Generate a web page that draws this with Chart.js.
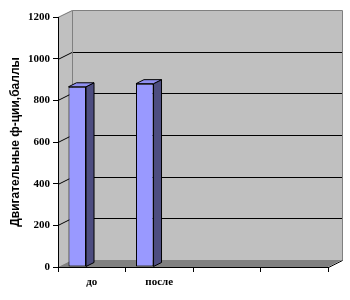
<!DOCTYPE html>
<html>
<head>
<meta charset="utf-8">
<script src="https://cdn.jsdelivr.net/npm/chart.js@4/dist/chart.umd.min.js"></script>
<style>
html,body{margin:0;padding:0;background:#fff;}
canvas{display:block;}
</style>
</head>
<body>
<canvas id="c" width="350" height="300"></canvas>
<script>
const categories = ['до', 'после', '', ''];
const values = [865, 880, null, null];
const yMin = 0;
const yMax = 1200;
const yStep = 200;
const yTitle = 'Двигательные ф-ции,баллы';

const WALL = {dx: 14, dy: 7};
const BAR3D = {dx: 8, dy: 4, shift: -14.5};

const walls3d = {
  id: 'walls3d',
  beforeDraw(chart) {
    const ctx = chart.ctx;
    const {left, right, top, bottom} = chart.chartArea;
    const ys = chart.scales.y;
    const dx = WALL.dx, dy = WALL.dy;
    ctx.save();
    ctx.fillStyle = '#fff';
    ctx.fillRect(0, 0, chart.width, chart.height);
    ctx.fillStyle = '#c0c0c0';
    ctx.fillRect(left + dx, top - dy, right - left, bottom - top);
    ctx.beginPath();
    ctx.moveTo(left, top); ctx.lineTo(left + dx, top - dy);
    ctx.lineTo(left + dx, bottom - dy); ctx.lineTo(left, bottom);
    ctx.closePath(); ctx.fill();
    ctx.fillStyle = '#808080';
    ctx.beginPath();
    ctx.moveTo(left, bottom); ctx.lineTo(right, bottom);
    ctx.lineTo(right + dx, bottom - dy); ctx.lineTo(left + dx, bottom - dy);
    ctx.closePath(); ctx.fill();
    ctx.lineWidth = 1;
    ctx.strokeStyle = '#000';
    ys.ticks.forEach(t => {
      if (t.value <= yMin || t.value >= yMax) return;
      const yy = Math.round(ys.getPixelForValue(t.value)) + 0.5;
      ctx.beginPath();
      ctx.moveTo(left, yy);
      ctx.lineTo(left + dx, yy - dy);
      ctx.lineTo(right + dx, yy - dy);
      ctx.stroke();
    });
    ctx.strokeStyle = '#808080';
    ctx.beginPath();
    ctx.moveTo(left, top + 0.5);
    ctx.lineTo(left + dx + 0.5, top - dy + 0.5);
    ctx.lineTo(right + dx + 0.5, top - dy + 0.5);
    ctx.lineTo(right + dx + 0.5, bottom - dy + 0.5);
    ctx.moveTo(left + dx + 0.5, top - dy + 0.5);
    ctx.lineTo(left + dx + 0.5, bottom - dy);
    ctx.stroke();
    ctx.strokeStyle = '#000';
    ctx.beginPath();
    ctx.moveTo(right + 0.5, bottom + 0.5);
    ctx.lineTo(right + dx + 0.5, bottom - dy + 0.5);
    ctx.stroke();
    ctx.restore();
  },
  beforeDatasetsDraw(chart) {
    chart.ctx.save();
    chart.ctx.translate(BAR3D.shift, 0);
  },
  afterDatasetsDraw(chart) {
    const ctx = chart.ctx;
    const dx = BAR3D.dx, dy = BAR3D.dy;
    chart.getSortedVisibleDatasetMetas().forEach(meta => {
      const raw = chart.data.datasets[meta.index].data;
      meta.data.forEach((el, i) => {
        if (raw[i] == null) return;
        const l = el.x - el.width / 2, r = el.x + el.width / 2;
        const y = el.y, b = el.base;
        ctx.lineWidth = 1;
        ctx.strokeStyle = '#000';
        ctx.fillStyle = '#4d4d80';
        ctx.beginPath();
        ctx.moveTo(r, y); ctx.lineTo(r + dx, y - dy);
        ctx.lineTo(r + dx, b - dy); ctx.lineTo(r, b);
        ctx.closePath(); ctx.fill(); ctx.stroke();
        ctx.fillStyle = '#8f8ff0';
        ctx.beginPath();
        ctx.moveTo(l, y); ctx.lineTo(l + dx, y - dy);
        ctx.lineTo(r + dx, y - dy); ctx.lineTo(r, y);
        ctx.closePath(); ctx.fill(); ctx.stroke();
      });
    });
    ctx.restore();
  }
};

new Chart(document.getElementById('c'), {
  type: 'bar',
  data: {
    labels: categories,
    datasets: [{
      data: values,
      backgroundColor: '#9999ff',
      borderColor: '#000',
      borderWidth: 1,
      borderSkipped: false,
      categoryPercentage: 1,
      barPercentage: 0.26
    }]
  },
  options: {
    responsive: false,
    devicePixelRatio: 1,
    animation: false,
    layout: {padding: {top: 17, right: 22, left: 0, bottom: 0}},
    plugins: {legend: {display: false}, tooltip: {enabled: false}},
    scales: {
      x: {
        offset: true,
        grid: {offset: true, drawOnChartArea: false, drawTicks: true, tickLength: 5, color: '#000'},
        border: {display: true, color: '#000', width: 1},
        ticks: {color: '#000', padding: 4, maxRotation: 0, autoSkip: false,
          font: {family: '"Liberation Serif", "Times New Roman", serif', size: 11, weight: 'bold'}},
        afterFit(s) { s.height = 33; }
      },
      y: {
        min: yMin, max: yMax,
        grid: {drawOnChartArea: false, drawTicks: true, tickLength: 5, color: '#000'},
        border: {display: true, color: '#000', width: 1},
        ticks: {stepSize: yStep, color: '#000', padding: 3,
          callback: v => String(v),
          font: {family: '"Liberation Serif", "Times New Roman", serif', size: 11, weight: 'bold'}},
        title: {display: true, text: yTitle, color: '#000', padding: {top: 8, bottom: 0},
          font: {family: '"Liberation Sans", Arial, sans-serif', size: 12, weight: 'bold'}},
        afterFit(s) { s.width = 58; }
      }
    }
  },
  plugins: [walls3d]
});
</script>
</body>
</html>
